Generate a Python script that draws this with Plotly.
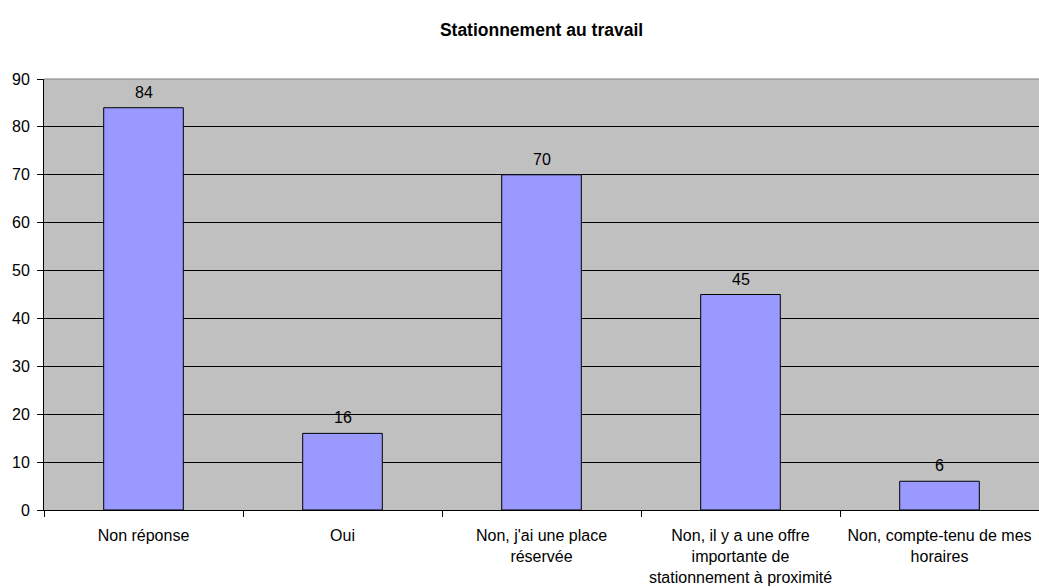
import plotly.graph_objects as go

categories = [
    "Non réponse",
    "Oui",
    "Non, j'ai une place<br>réservée",
    "Non, il y a une offre<br>importante de<br>stationnement à proximité",
    "Non, compte-tenu de mes<br>horaires",
]
values = [84, 16, 70, 45, 6]
y_ticks = [0, 10, 20, 30, 40, 50, 60, 70, 80, 90]

font_family = "Liberation Sans, Arial, sans-serif"

fig = go.Figure(
    go.Bar(
        x=categories,
        y=values,
        cliponaxis=False,
        marker=dict(color="#9999FF", line=dict(color="#000000", width=1)),
        hoverinfo="x+y",
    )
)

for cat, val in zip(categories, values):
    fig.add_annotation(
        x=cat,
        y=val,
        text=str(val),
        showarrow=False,
        yanchor="bottom",
        yshift=5,
        font=dict(family=font_family, size=16, color="#000000"),
    )

fig.update_layout(
    width=1039,
    height=588,
    margin=dict(l=44, r=0, t=79, b=78, autoexpand=False),
    paper_bgcolor="#FFFFFF",
    plot_bgcolor="#C0C0C0",
    bargap=0.6,
    showlegend=False,
    font=dict(family=font_family, size=16, color="#000000"),
    title=dict(
        text="<b>Stationnement au travail</b>",
        x=0.5,
        xref="paper",
        xanchor="center",
        y=1 - 30 / 588,
        yref="container",
        yanchor="middle",
        font=dict(family=font_family, size=17.5, color="#000000"),
    ),
    xaxis=dict(
        type="category",
        automargin=False,
        showgrid=False,
        showline=True,
        linecolor="#000000",
        linewidth=1,
        ticks="outside",
        tickson="boundaries",
        ticklen=6,
        tickcolor="#000000",
        ticklabelstandoff=11,
        tickfont=dict(family=font_family, size=16, color="#000000"),
    ),
    yaxis=dict(
        range=[0, 90],
        automargin=False,
        tickvals=y_ticks,
        showgrid=True,
        gridcolor="#000000",
        gridwidth=1,
        showline=True,
        linecolor="#000000",
        linewidth=1,
        ticks="outside",
        ticklen=6,
        tickcolor="#000000",
        ticklabelstandoff=4,
        zeroline=False,
        tickfont=dict(family=font_family, size=16, color="#000000"),
    ),
    shapes=[
        dict(
            type="line",
            xref="paper",
            yref="paper",
            x0=0,
            x1=1,
            y0=1,
            y1=1,
            line=dict(color="#808080", width=1),
            layer="above",
        )
    ],
)

fig.write_html(
    "out.html",
    config={"displayModeBar": False},
    post_script="document.body.style.margin='0';document.body.style.overflow='hidden';",
)
